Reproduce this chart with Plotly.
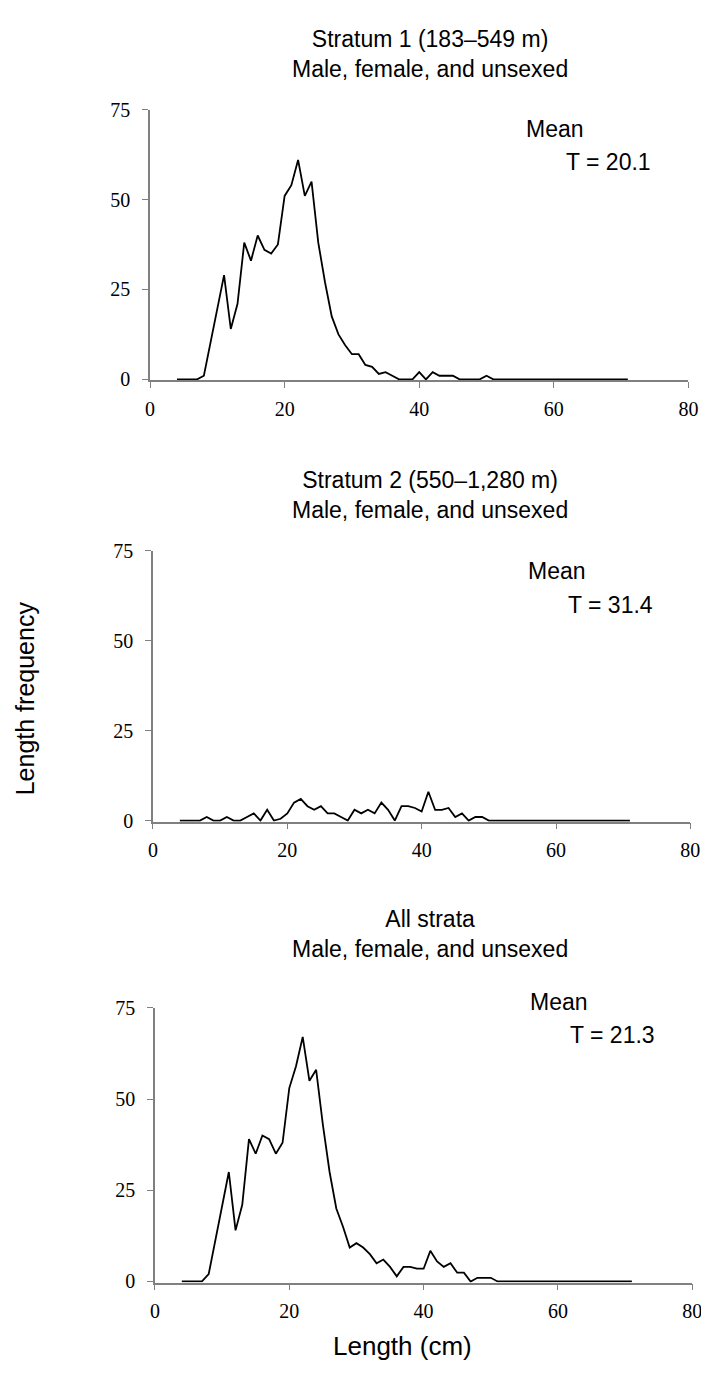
import plotly.graph_objects as go

lengths = list(range(4, 72))

stratum1 = [0, 0, 0, 0, 1, 10, 19, 29, 14, 21, 38, 33, 40, 36, 35, 37.5, 51, 54, 61, 51,
            55, 38, 27, 17.5, 12.5, 9.5, 7, 7, 4, 3.5, 1.5, 2, 1, 0, 0, 0, 2, 0, 2, 1,
            1, 1, 0, 0, 0, 0, 1] + [0] * 21

stratum2 = [0, 0, 0, 0, 1, 0, 0, 1, 0, 0, 1, 2, 0, 3, 0, 0.5, 2, 5, 6, 4,
            3, 4, 2, 2, 1, 0, 3, 2, 3, 2, 5, 3, 0, 4, 4, 3.5, 2.5, 8, 3, 3,
            3.5, 1, 2, 0, 1, 1, 0] + [0] * 21

allstrata = [0, 0, 0, 0, 2, 11, 20, 30, 14, 21, 39, 35, 40, 39, 35, 38, 53, 59, 67, 55,
             58, 43, 30, 20, 15, 9.3, 10.5, 9.3, 7.5, 5, 6, 4, 1.4, 4, 4, 3.5, 3.5, 8.4, 5.5, 4,
             5, 2.4, 2.4, 0, 1, 1, 1] + [0] * 21

titles = ["Stratum 1 (183\u2013549 m)<br>Male, female, and unsexed",
          "Stratum 2 (550\u20131,280 m)<br>Male, female, and unsexed",
          "All strata<br>Male, female, and unsexed"]
means = ["T = 20.1", "T = 31.4", "T = 21.3"]
series = [stratum1, stratum2, allstrata]

x_ticks = [0, 20, 40, 60, 80]
y_ticks = [0, 25, 50, 75]

W, H = 709, 1386
SANS = "Liberation Sans, Arial, sans-serif"
SERIF = "Liberation Serif, Times New Roman, serif"
YMIN, YMAX = -0.3, 75
# pixel layout: (left, right, top, bottom)
boxes = [(140, 690, 92, 367), (143, 692, 540, 815), (145, 694, 1004, 1283)]
title_gap = [26, 26, 44]
mean_y = [(69.5, 60.5), (69.5, 60), (76.5, 67.5)]


def yfrac(v):
    return (v - YMIN) / (YMAX - YMIN)


fig = go.Figure()
annotations = []
for i, (vals, box) in enumerate(zip(series, boxes)):
    n = "" if i == 0 else str(i + 1)
    l, r, t, b = box
    fig.add_trace(go.Scatter(x=lengths, y=vals, mode="lines",
                             line=dict(color="black", width=1.8),
                             xaxis="x" + n, yaxis="y" + n, showlegend=False,
                             hoverinfo="skip"))
    ax = dict(domain=[l / W, r / W], range=[0, 80], tickvals=x_ticks,
              showline=True, linecolor="#808080", linewidth=1.5,
              ticks="outside", ticklen=6, tickcolor="#808080", tickwidth=1.2,
              showgrid=False, zeroline=False, ticklabelstandoff=4,
              tickfont=dict(family=SERIF, size=20, color="black"),
              anchor="y" + n)
    ay = dict(domain=[1 - b / H, 1 - t / H], range=[YMIN, YMAX], tickvals=y_ticks,
              showline=True, linecolor="#808080", linewidth=1.5,
              ticks="outside", ticklen=6, tickcolor="#808080", tickwidth=1.2,
              showgrid=False, zeroline=False, ticklabelstandoff=8,
              tickfont=dict(family=SERIF, size=20, color="black"),
              anchor="x" + n)
    fig.update_layout(**{"xaxis" + n: ax, "yaxis" + n: ay})
    annotations.append(dict(text=titles[i], x=426 / W, y=1 - (t - title_gap[i]) / H,
                            xref="paper", yref="paper", xanchor="center", yanchor="bottom",
                            showarrow=False,
                            font=dict(family=SANS, size=23, color="black")))
    annotations.append(dict(text="Mean", x=55.5, y=yfrac(mean_y[i][0]), xref="x" + n,
                            yref="y" + n + " domain",
                            xanchor="left", yanchor="middle", showarrow=False,
                            font=dict(family=SANS, size=23, color="black")))
    annotations.append(dict(text=means[i], x=61.5, y=yfrac(mean_y[i][1]), xref="x" + n,
                            yref="y" + n + " domain",
                            xanchor="left", yanchor="middle", showarrow=False,
                            font=dict(family=SANS, size=23, color="black")))

annotations.append(dict(text="Length frequency", x=12 / W, y=1 - 690 / H, xref="paper", yref="paper",
                        xanchor="center", yanchor="middle", textangle=-90, showarrow=False,
                        font=dict(family=SANS, size=25, color="black")))
annotations.append(dict(text="Length (cm)", x=398 / W, y=1 - 1347 / H, xref="paper", yref="paper",
                        xanchor="center", yanchor="middle", showarrow=False,
                        font=dict(family=SANS, size=26, color="black")))

fig.update_layout(width=W, height=H, margin=dict(l=0, r=0, t=0, b=0),
                  paper_bgcolor="white", plot_bgcolor="white",
                  annotations=annotations, showlegend=False)

fig.write_html("out.html")
